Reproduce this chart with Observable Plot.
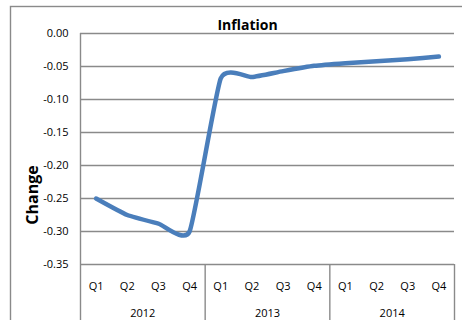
<!DOCTYPE html>
<html>
<head>
<meta charset="utf-8">
<script src="https://cdn.jsdelivr.net/npm/d3@7"></script>
<script src="https://cdn.jsdelivr.net/npm/@observablehq/plot@0.6"></script>
<style>
  html, body { margin: 0; padding: 0; background: #fff; }
  #chart { width: 462px; height: 320px; overflow: hidden; }
  svg { display: block; }
</style>
</head>
<body>
<div id="chart"></div>
<script>
// Quarterly inflation change, 2012–2014
const years = ["2012", "2013", "2014"];
const quarters = ["Q1", "Q2", "Q3", "Q4"];
const change = [
  -0.250, -0.275, -0.288, -0.300,   // 2012
  -0.068, -0.066, -0.057, -0.049,   // 2013
  -0.045, -0.042, -0.039, -0.035    // 2014
];
const yTicks = [0, -0.05, -0.10, -0.15, -0.20, -0.25, -0.30, -0.35];

const rows = change.map((v, i) => ({
  i,
  year: years[Math.floor(i / quarters.length)],
  quarter: quarters[i % quarters.length],
  value: v
}));
const n = rows.length;
// centre of each year group and the boundaries between groups, in quarter index units
const yearRows = years.map((y, k) => ({year: y, i: k * quarters.length + (quarters.length - 1) / 2}));
const groupEdges = years.map((y, k) => (k + 1) * quarters.length - 0.5);

const font = "'Open Sans', sans-serif";
const gridColor = "#8a8a8a";
const yMin = d3.min(yTicks);
const yLow = yMin - 0.1; // reaches below the category rows

const plot = Plot.plot({
  width: 462,
  height: 320,
  marginLeft: 80,
  marginRight: 8,
  marginTop: 33,
  marginBottom: 56,
  style: {fontFamily: font, fontSize: "11px", color: "#000", background: "#fff", overflow: "visible"},
  x: {domain: [-0.5, n - 0.5], axis: null},
  y: {
    domain: [yMin, 0],
    ticks: yTicks,
    tickFormat: d => d.toFixed(2),
    tickSize: 0,
    tickPadding: 12,
    label: null
  },
  marks: [
    // horizontal gridlines
    Plot.ruleY(yTicks, {stroke: gridColor, strokeWidth: 1.4}),
    // left axis line, running down through the category rows
    Plot.ruleX([-0.5], {y1: 0, y2: yLow, stroke: gridColor, strokeWidth: 1.4, clip: false}),
    // separators between year groups
    Plot.ruleX(groupEdges, {y1: yMin, y2: yLow, stroke: gridColor, strokeWidth: 1.4, clip: false}),
    // quarter labels
    Plot.text(rows, {x: "i", y: () => yMin, text: "quarter", dy: 22, fontSize: 11, fill: "#000"}),
    // year labels
    Plot.text(yearRows, {x: "i", y: () => yMin, text: "year", dy: 49, fontSize: 11, fill: "#000"}),
    // series, smoothed
    Plot.line(rows, {
      x: "i", y: "value",
      curve: "cardinal", tension: 0.5,
      stroke: "#4a7ebb", strokeWidth: 4.5,
      strokeLinecap: "round", strokeLinejoin: "round"
    }),
    // title
    Plot.text(["Inflation"], {
      frameAnchor: "top", text: d => d, dx: -20, dy: -4, lineAnchor: "bottom",
      fontSize: 14, fontWeight: "bold", fill: "#000"
    }),
    // y axis title
    Plot.text(["Change"], {
      frameAnchor: "left", text: d => d, rotate: -90, dx: -48, dy: 46,
      textAnchor: "middle",
      fontSize: 16, fontWeight: "bold", fill: "#000"
    })
  ]
});

// outer chart border
d3.select(plot).insert("rect", ":first-child")
  .attr("x", 10.5).attr("y", 6.5)
  .attr("width", 470).attr("height", 330)
  .attr("fill", "#fff").attr("stroke", "#8a8a8a").attr("stroke-width", 1.4);

document.getElementById("chart").append(plot);
</script>
</body>
</html>
